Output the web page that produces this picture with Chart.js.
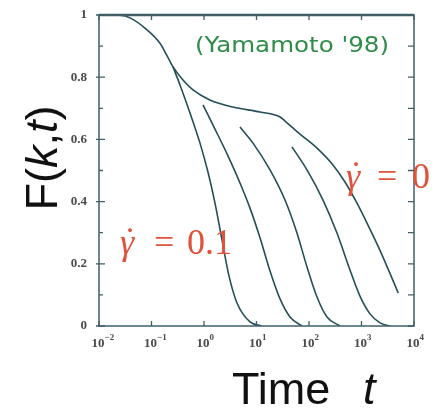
<!DOCTYPE html>
<html><head><meta charset="utf-8">
<script src="https://cdn.jsdelivr.net/npm/chart.js@4.4.0/dist/chart.umd.min.js"></script>
<style>html,body{margin:0;padding:0;background:#fff}</style>
</head><body>
<canvas id="c" width="440" height="412" style="width:440px;height:412px;display:block"></canvas>
<script>
// ---- data (t = time, F = F(k,t)) ----
const tGamma0 = [0.01, 0.0251, 0.0398, 0.0759, 0.145, 0.195, 0.257, 0.398, 0.617, 1.29, 3.55, 11.7, 28.2, 34.9, 67.4, 142, 286, 485, 821, 1274, 2239, 3467, 5012];
const fGamma0 = [1.0, 0.999, 0.99, 0.957, 0.909, 0.871, 0.833, 0.791, 0.759, 0.727, 0.704, 0.688, 0.672, 0.659, 0.617, 0.572, 0.518, 0.463, 0.395, 0.331, 0.244, 0.170, 0.106];

const tGammaA = [0.257, 0.349, 0.541, 0.839, 1.19, 1.62, 2.20, 2.99, 4.25, 7.52, 12.7];
const fGammaA = [0.833, 0.775, 0.685, 0.588, 0.495, 0.395, 0.277, 0.161, 0.074, 0.013, 0.0];

const tGammaB = [0.957, 1.62, 2.86, 4.85, 7.52, 11.7, 18.1, 28.1, 43.5, 73.6];
const fGammaB = [0.711, 0.633, 0.547, 0.460, 0.379, 0.283, 0.177, 0.087, 0.029, 0.0];

const tGammaC = [4.85, 8.57, 18.1, 34.9, 59.0, 91.6, 142, 220, 389];
const fGammaC = [0.64, 0.588, 0.502, 0.405, 0.299, 0.19, 0.093, 0.029, 0.0];

const tGammaD = [47.4, 91.6, 185, 341, 604, 935, 1452, 2249, 3467];
const fGammaD = [0.576, 0.502, 0.405, 0.299, 0.18, 0.096, 0.039, 0.01, 0.0];

const xDecades = [-2, -1, 0, 1, 2, 3, 4];
const yTickLabels = ['0', '0.2', '0.4', '0.6', '0.8', '1'];

const titleX = 'Time';
const citation = "(Yamamoto '98)";
const labelShear = '0.1';
const labelRest = '0';

// ---- styling ----
const LINE = '#244f58';
const AXIS = '#3f5f68';
const RED = '#e0523c';
const GREEN = '#2f8c49';

function pts(ts, fs) { return ts.map((t, i) => ({ x: t, y: fs[i] })); }

const series = [
  [tGamma0, fGamma0], [tGammaA, fGammaA], [tGammaB, fGammaB], [tGammaC, fGammaC], [tGammaD, fGammaD]
];

const decor = {
  id: 'decor',
  afterDraw(chart) {
    const ctx = chart.ctx, a = chart.chartArea;
    const xs = chart.scales.x, ys = chart.scales.y;
    ctx.save();
    // frame
    ctx.strokeStyle = AXIS;
    ctx.lineWidth = 1.5;
    ctx.strokeRect(a.left, a.top, a.right - a.left, a.bottom - a.top);
    ctx.lineWidth = 2.4;
    ctx.beginPath(); ctx.moveTo(a.left, a.top); ctx.lineTo(a.right, a.top); ctx.stroke();
    ctx.lineWidth = 1.3;
    // y ticks
    for (let k = 0; k <= 10; k++) {
      const y = ys.getPixelForValue(k / 10);
      const major = k % 2 === 0;
      ctx.beginPath();
      if (major) { ctx.moveTo(a.left - 3, y); ctx.lineTo(a.left + 6, y); }
      else { ctx.moveTo(a.left, y); ctx.lineTo(a.left + 4, y); }
      ctx.moveTo(a.right, y); ctx.lineTo(a.right - 6, y);
      ctx.stroke();
    }
    // x ticks + labels
    ctx.fillStyle = '#4a4a4a';
    xDecades.forEach(e => {
      const x = xs.getPixelForValue(Math.pow(10, e));
      ctx.beginPath();
      ctx.moveTo(x, a.bottom); ctx.lineTo(x, a.bottom - 5);
      ctx.moveTo(x, a.top); ctx.lineTo(x, a.top + 5);
      ctx.stroke();
      ctx.font = 'bold 13px "Liberation Serif"';
      ctx.textBaseline = 'alphabetic';
      ctx.textAlign = 'left';
      const w = ctx.measureText('10').width;
      ctx.fillText('10', x - w / 2 - 1, a.bottom + 21);
      ctx.font = 'bold 9px "Liberation Serif"';
      ctx.fillText(e < 0 ? '\u2212' + (-e) : String(e), x + w / 2 - 1, a.bottom + 14);
    });
    // y title
    ctx.fillStyle = '#111';
    ctx.save();
    ctx.translate(57, 158);
    ctx.rotate(-Math.PI / 2);
    const parts = [['F(', ''], ['k', 'italic '], [',', ''], ['t', 'italic '], [')', '']];
    let total = 0;
    parts.forEach(p => { ctx.font = p[1] + '45px "Liberation Sans"'; total += ctx.measureText(p[0]).width; });
    let px = -total / 2;
    parts.forEach(p => { ctx.font = p[1] + '45px "Liberation Sans"'; ctx.fillText(p[0], px, 0); px += ctx.measureText(p[0]).width; });
    ctx.restore();
    // x title
    ctx.font = '45px "Liberation Sans"';
    ctx.fillText(titleX, 232, 404);
    ctx.font = 'italic 45px "Liberation Sans"';
    ctx.fillText('t', 363, 404);
    // citation
    ctx.fillStyle = GREEN;
    ctx.font = '22px "DejaVu Sans"';
    const cw = ctx.measureText(citation).width;
    ctx.save();
    ctx.translate(195, 52);
    ctx.scale(194 / cw, 1);
    ctx.fillText(citation, 0, 0);
    ctx.restore();
    // gamma labels
    ctx.fillStyle = RED;
    function gammaLabel(x, base, eqX, numX, num, size) {
      ctx.font = 'italic ' + size + 'px "Liberation Serif"';
      ctx.fillText('\u03B3', x, base);
      ctx.font = size + 'px "Liberation Serif"';
      ctx.fillText('\u02D9', x + 4, base - 2);
      ctx.fillText('=', eqX, base);
      ctx.fillText(num, numX, base);
    }
    gammaLabel(120, 254, 154, 187, labelShear, 36);
    gammaLabel(346, 188, 377, 412, labelRest, 36);
    ctx.restore();
  }
};

new Chart(document.getElementById('c'), {
  type: 'line',
  data: {
    datasets: series.map(([ts, fs]) => ({
      data: pts(ts, fs),
      borderColor: LINE,
      borderWidth: 1.6,
      pointRadius: 0,
      fill: false,
      cubicInterpolationMode: 'monotone'
    }))
  },
  options: {
    responsive: false,
    devicePixelRatio: 1,
    animation: false,
    layout: { padding: { top: 15, right: 26, left: 0, bottom: 0 } },
    plugins: { legend: { display: false }, tooltip: { enabled: false } },
    scales: {
      x: {
        type: 'logarithmic', min: 0.01, max: 10000,
        grid: { display: false }, border: { display: false },
        ticks: { display: false },
        afterFit(s) { s.height = 86; }
      },
      y: {
        type: 'linear', min: 0, max: 1,
        grid: { display: false }, border: { display: false },
        ticks: {
          stepSize: 0.2, padding: 4, color: '#4a4a4a',
          font: { family: 'Liberation Serif', size: 13, weight: 'bold' },
          callback: (v) => yTickLabels[Math.round(v * 5)]
        },
        afterFit(s) { s.width = 99; }
      }
    }
  },
  plugins: [decor]
});
</script>
</body></html>
